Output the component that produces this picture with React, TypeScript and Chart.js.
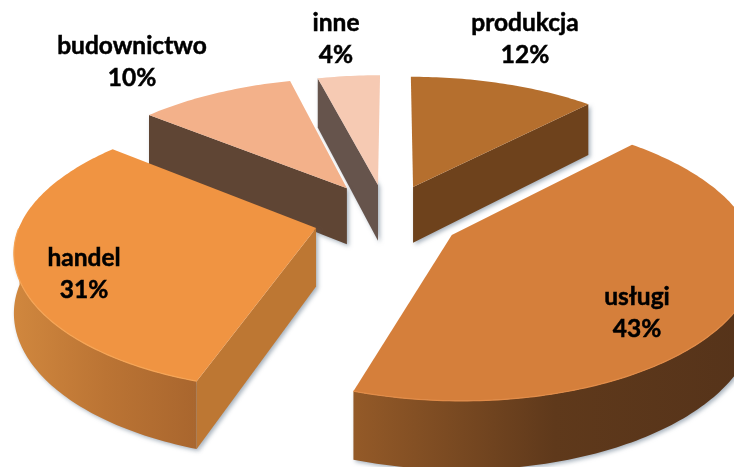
import React, { useEffect, useRef } from "react";
import { Chart, DoughnutController, registerables } from "chart.js";

const categories = ["produkcja", "usługi", "handel", "budownictwo", "inne"];
const shares = [12, 43, 31, 10, 4];

// styling: colours per slice
const topColors = ["#B56F2E", "#D57F3B", "#F09442", "#F3B18A", "#F6CAB3"];
const rimColors = ["#C98242", "#E28C48", "#F6A556", "#F3B18A", "#F6CAB3"];
const radialWallColors = ["#6E421C", "#6E421C", "#BD7733", "#5F4534", "#66544C"];
const curveWallStart = ["#7A4A20", "#945A28", "#D0873E", "#5F4534", "#66544C"];
const curveWallMid = ["#6E421C", "#5F391B", "#BB7434", "#5F4534", "#66544C"];
const curveWallEnd = ["#6E421C", "#55331A", "#A9662E", "#5F4534", "#66544C"];
// styling: exploded apex of each slice in the tilted plane
const explodeX = [18.4, 55, -77, -49, -17.4];
const explodeY = [-18.4, 29, 22.4, -17, -20.4];
const paintOrder = [4, 3, 0, 2, 1];
const labelX = [525, 637, 84, 132, 336];
const labelY = [23, 297, 258, 46, 23];
const lineGap = 32;

const RADIUS_SCALE = 1.242;
const TILT = 0.44;
const PERSPECTIVE_X = 0.00108;
const PERSPECTIVE_NEAR = 0.00128;
const PERSPECTIVE_FAR = 0.00095;
const DEPTH = 57;
const CENTER_DX = 28;
const CENTER_DY = -28.5;

class Pie3DController extends (DoughnutController as any) {
  static id = "pie3d";
  static defaults = { ...(DoughnutController as any).defaults };
  static overrides = (DoughnutController as any).overrides;

  draw() {
    const ctx = (this as any).chart.ctx as CanvasRenderingContext2D;
    const arcs = (this as any)._cachedMeta.data as any[];
    for (const i of paintOrder) {
      const arc = arcs[i];
      const cx = arc.x + CENTER_DX;
      const cy = arc.y + CENTER_DY;
      const R = arc.outerRadius * RADIUS_SCALE;
      const at = (u: number, w: number) => {
        const Y = w / (1 - (w > 0 ? PERSPECTIVE_NEAR : PERSPECTIVE_FAR) * w);
        const s = 1 + PERSPECTIVE_X * Y;
        return { x: cx + u * s, y: cy + Y, b: cy + Y + DEPTH * s };
      };
      const rim = (a: number) => at(explodeX[i] + R * Math.cos(a), explodeY[i] + R * TILT * Math.sin(a));
      const apex = at(explodeX[i], explodeY[i]);
      const a0 = arc.startAngle;
      const a1 = arc.endAngle;
      const N = Math.max(8, Math.ceil(((a1 - a0) * 180) / Math.PI));
      const samples: number[] = [];
      for (let k = 0; k <= N; k++) samples.push(a0 + ((a1 - a0) * k) / N);

      ctx.save();
      ctx.shadowColor = "rgba(95,115,135,0.55)";
      ctx.shadowBlur = 4;
      ctx.shadowOffsetX = 2;
      ctx.shadowOffsetY = 2;

      // outer curved wall: only the part turned towards the viewer
      const front = samples.filter((a) => Math.sin(a) > -0.02);
      if (front.length > 1) {
        const pts = front.map(rim);
        const xs = pts.map((p) => p.x);
        const g = ctx.createLinearGradient(Math.min(...xs), 0, Math.max(...xs), 0);
        g.addColorStop(0, curveWallStart[i]);
        g.addColorStop(0.5, curveWallMid[i]);
        g.addColorStop(1, curveWallEnd[i]);
        ctx.fillStyle = g;
        ctx.beginPath();
        pts.forEach((p, k) => (k ? ctx.lineTo(p.x, p.y) : ctx.moveTo(p.x, p.y)));
        [...pts].reverse().forEach((p) => ctx.lineTo(p.x, p.b));
        ctx.closePath();
        ctx.fill();
      }

      // radial cut walls
      const wall = (a: number) => {
        const p = rim(a);
        ctx.fillStyle = radialWallColors[i];
        ctx.beginPath();
        ctx.moveTo(apex.x, apex.y);
        ctx.lineTo(p.x, p.y);
        ctx.lineTo(p.x, p.b);
        ctx.lineTo(apex.x, apex.b);
        ctx.closePath();
        ctx.fill();
      };
      if (Math.cos(a0) < -0.02) wall(a0);
      if (Math.cos(a1) > 0.02) wall(a1);

      ctx.restore();

      // top face
      ctx.fillStyle = topColors[i];
      ctx.beginPath();
      ctx.moveTo(apex.x, apex.y);
      samples.map(rim).forEach((p) => ctx.lineTo(p.x, p.y));
      ctx.closePath();
      ctx.fill();

      // light bevel along the front rim
      const frontRim = samples.filter((a) => Math.sin(a) > 0).map(rim);
      if (frontRim.length > 1) {
        ctx.strokeStyle = rimColors[i];
        ctx.lineWidth = 1.2;
        ctx.beginPath();
        frontRim.forEach((p, k) => (k ? ctx.lineTo(p.x, p.y) : ctx.moveTo(p.x, p.y)));
        ctx.stroke();
      }
    }
  }
}

Chart.register(...registerables, Pie3DController as any);

const labelPlugin = {
  id: "sliceLabels",
  afterDatasetsDraw(chart: any) {
    const ctx = chart.ctx as CanvasRenderingContext2D;
    ctx.save();
    ctx.fillStyle = "#000000";
    ctx.strokeStyle = "#000000";
    ctx.lineWidth = 0.5;
    ctx.textAlign = "center";
    ctx.textBaseline = "middle";
    ctx.font = "bold 24.5px Lato";
    categories.forEach((name, i) => {
      const pct = `${shares[i]}%`;
      ctx.fillText(name, labelX[i], labelY[i]);
      ctx.strokeText(name, labelX[i], labelY[i]);
      ctx.fillText(pct, labelX[i], labelY[i] + lineGap);
      ctx.strokeText(pct, labelX[i], labelY[i] + lineGap);
    });
    ctx.restore();
  },
};

export default function App() {
  const ref = useRef<HTMLCanvasElement>(null);
  useEffect(() => {
    const chart = new Chart(ref.current as HTMLCanvasElement, {
      type: "pie3d" as any,
      data: {
        labels: categories,
        datasets: [{ data: shares, backgroundColor: topColors, borderWidth: 0 }],
      },
      options: {
        responsive: false,
        animation: false,
        cutout: 0,
        layout: { padding: 0 },
        plugins: { legend: { display: false }, tooltip: { enabled: false } },
      } as any,
      plugins: [labelPlugin],
    });
    return () => chart.destroy();
  }, []);
  return (
    <canvas
      ref={ref}
      width={734}
      height={467}
      style={{ position: "absolute", left: 0, top: 0, width: 734, height: 467, display: "block" }}
    />
  );
}
